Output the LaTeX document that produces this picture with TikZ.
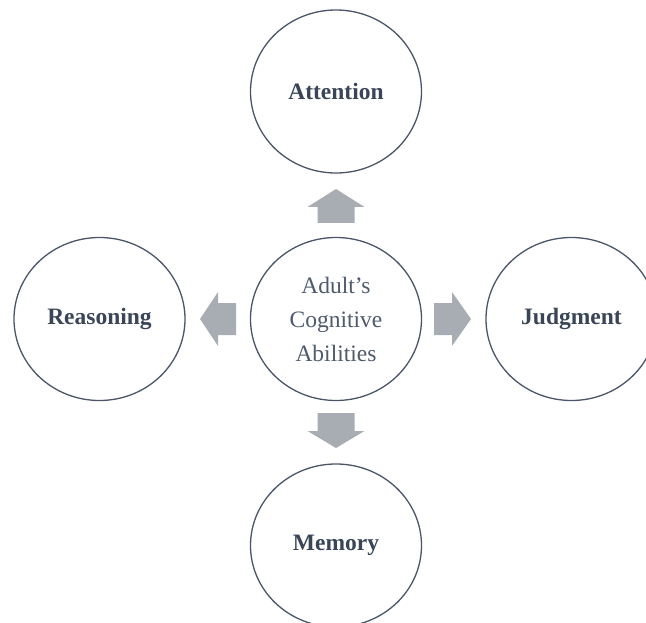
\documentclass[tikz,border=0pt]{standalone}
\usepackage{fontspec}
\setmainfont{Liberation Serif}
\usetikzlibrary{shapes.geometric}
\definecolor{ringcol}{HTML}{4A5568}
\definecolor{labelcol}{HTML}{3A4658}
\definecolor{hubcol}{HTML}{4E5B6D}
\definecolor{blockcol}{HTML}{A8ACB3}
\begin{document}
\begin{tikzpicture}[x=1pt,y=-1pt,
  ability/.style={ellipse,draw=ringcol,line width=1.3pt,fill=white,
    minimum width=171pt,minimum height=163pt,inner sep=0pt,
    text=labelcol,font=\fontsize{23.5}{28}\selectfont\bfseries},
  hub/.style={ability,font=\fontsize{23.5}{34}\selectfont,text=hubcol,align=center}]
\useasboundingbox (0,0) rectangle (646,623);

\node[hub] (adult) at (336,319) {Adult’s\\Cognitive\\Abilities};
\node[ability] (attention) at (336,91.5) {Attention};
\node[ability] (reasoning) at (99.5,319) {Reasoning};
\node[ability] (judgment) at (571.5,319) {Judgment};
\node[ability] (memory) at (336,545.5) {Memory};

% block arrows
\fill [blockcol] (317.5,223) -- (317.5,207) -- (307.5,207) -- (336,189) -- (364.5,207) -- (354.5,207) -- (354.5,223) -- cycle;
\fill [blockcol] (317.5,413) -- (317.5,431) -- (307.5,431) -- (336,448) -- (364.5,431) -- (354.5,431) -- (354.5,413) -- cycle;
\fill [blockcol] (434,303) -- (452,303) -- (452,292) -- (471,319) -- (452,346) -- (452,335) -- (434,335) -- cycle;
\fill [blockcol] (236,303) -- (218,303) -- (218,292) -- (200,319) -- (218,346) -- (218,335) -- (236,335) -- cycle;
\end{tikzpicture}
\end{document}
